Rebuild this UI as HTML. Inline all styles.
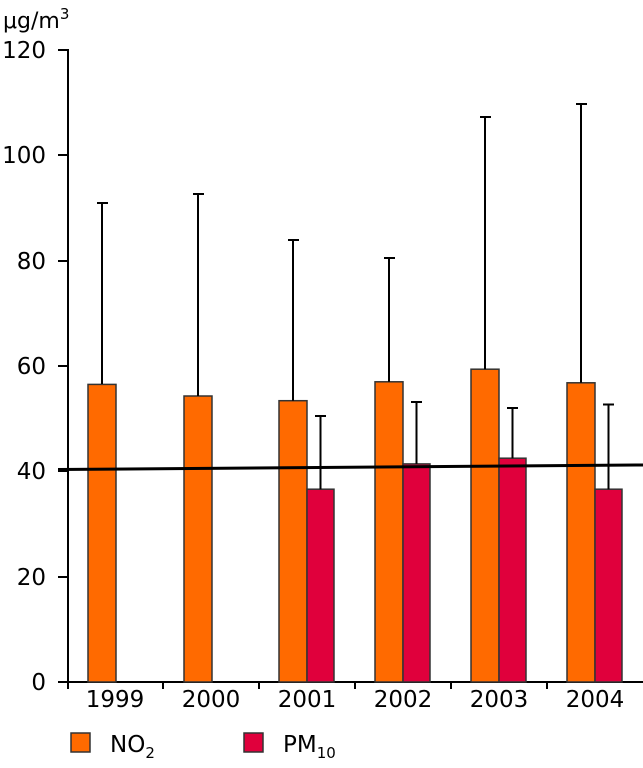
<!DOCTYPE html>
<html><head><meta charset="utf-8"><style>
html,body{margin:0;padding:0;background:#fff;}
svg{display:block;font-family:"DejaVu Sans","Liberation Sans",sans-serif;}
</style></head><body>
<svg width="643" height="768" viewBox="0 0 643 768" xmlns="http://www.w3.org/2000/svg">
<text x="3" y="28" font-size="22" fill="#000">μg/m<tspan font-size="15" dy="-9">3</tspan></text>
<g font-size="23" text-anchor="end" fill="#000">
<text x="46" y="58">120</text>
<text x="46" y="163">100</text>
<text x="46" y="269">80</text>
<text x="46" y="374">60</text>
<text x="46" y="479">40</text>
<text x="46" y="585">20</text>
<text x="46" y="690">0</text>
</g>
<g stroke="#000" stroke-width="2">
<line x1="68" y1="49" x2="68" y2="689"/>
<line x1="58" y1="682" x2="643" y2="682"/>
<line x1="58" y1="50" x2="68" y2="50"/>
<line x1="58" y1="155" x2="68" y2="155"/>
<line x1="58" y1="261" x2="68" y2="261"/>
<line x1="58" y1="366" x2="68" y2="366"/>
<line x1="58" y1="471" x2="68" y2="471"/>
<line x1="58" y1="577" x2="68" y2="577"/>
<line x1="163" y1="682" x2="163" y2="689"/>
<line x1="259" y1="682" x2="259" y2="689"/>
<line x1="355" y1="682" x2="355" y2="689"/>
<line x1="451" y1="682" x2="451" y2="689"/>
<line x1="547" y1="682" x2="547" y2="689"/>
</g>
<g stroke="#333" stroke-width="1.5">
<rect x="88" y="384.4" width="28" height="297.6" fill="#ff6a00"/>
<rect x="184" y="396" width="28" height="286" fill="#ff6a00"/>
<rect x="279" y="400.7" width="28" height="281.3" fill="#ff6a00"/>
<rect x="307" y="489.2" width="27" height="192.8" fill="#e0003c"/>
<rect x="375" y="381.8" width="28" height="300.2" fill="#ff6a00"/>
<rect x="403" y="463.9" width="27" height="218.1" fill="#e0003c"/>
<rect x="471" y="369.2" width="28" height="312.8" fill="#ff6a00"/>
<rect x="499" y="458.2" width="27" height="223.8" fill="#e0003c"/>
<rect x="567" y="382.8" width="28" height="299.2" fill="#ff6a00"/>
<rect x="595" y="489.2" width="27" height="192.8" fill="#e0003c"/>
</g>
<g stroke="#000" stroke-width="2">
<path d="M102 384V203M97 203H108"/>
<path d="M198 396V194M193 194H204"/>
<path d="M293 400.7V240M288 240H299"/>
<path d="M320.5 489.2V416M315 416H326"/>
<path d="M389 381.8V258M384 258H395"/>
<path d="M416.5 463.9V402M411 402H422"/>
<path d="M485 369.2V117M480 117H491"/>
<path d="M512.5 458.2V408M507 408H518"/>
<path d="M581 382.8V104M576 104H587"/>
<path d="M608.5 489.2V404.5M603 404.5H614"/>
</g>
<line x1="58" y1="469.5" x2="643" y2="465" stroke="#000" stroke-width="3"/>
<g font-size="23" text-anchor="middle" fill="#000">
<text x="115" y="707">1999</text>
<text x="211" y="707">2000</text>
<text x="307" y="707">2001</text>
<text x="403" y="707">2002</text>
<text x="499" y="707">2003</text>
<text x="595" y="707">2004</text>
</g>
<rect x="71" y="733" width="19" height="19" fill="#ff6a00" stroke="#333" stroke-width="1.5"/>
<text x="110" y="752" font-size="23">NO<tspan font-size="15" dy="6">2</tspan></text>
<rect x="244" y="733" width="19" height="19" fill="#e0003c" stroke="#333" stroke-width="1.5"/>
<text x="283" y="752" font-size="23">PM<tspan font-size="15" dy="6">10</tspan></text>
</svg>
</body></html>
